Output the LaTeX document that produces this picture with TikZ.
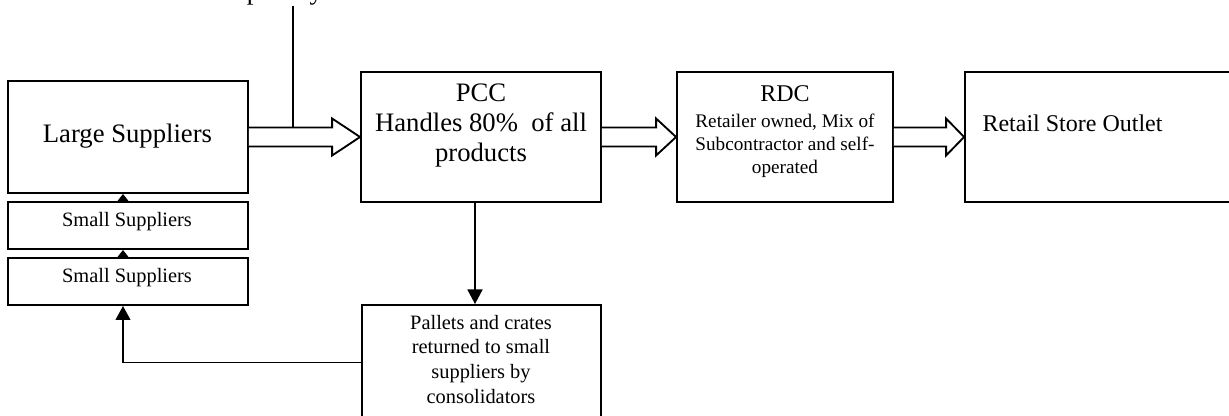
\documentclass[tikz,border=0pt]{standalone}
\usepackage{fontspec}
\setmainfont{Liberation Serif}
\usetikzlibrary{arrows.meta,calc}
\tikzset{
  box/.style={draw, line width=1.4pt, inner sep=0pt},
  txt/.style={inner sep=0pt, align=center},
  bigf/.style={font=\fontsize{20pt}{22.5pt}\selectfont},
  medf/.style={font=\fontsize{18pt}{21pt}\selectfont},
  smallf/.style={font=\fontsize{15.3pt}{18.4pt}\selectfont},
  descf/.style={font=\fontsize{14.4pt}{17.25pt}\selectfont},
  hollow/.style={draw, fill=white, line width=1.4pt},
  conn/.style={draw, line width=1.4pt},
  bigtip/.style={-{Triangle[length=11pt,width=11.25pt]}},
  smalltip/.style={-{Triangle[length=6.5pt,width=9.75pt]}},
  rettip/.style={-{Triangle[length=10.5pt,width=11pt]}}
}
\newcommand\hollowarrow[3]{%
  \draw[hollow] let \p1=(#1.east), \p2=(#2.west) in
    (\x1,\y1+7.1pt) -- (\x2-#3*0.75pt,\y1+7.1pt) -- (\x2-#3*0.75pt,\y1+13.9pt)
    -- (\x2,\y1) -- (\x2-#3*0.75pt,\y1-13.9pt) -- (\x2-#3*0.75pt,\y1-7.1pt)
    -- (\x1,\y1-7.1pt);}
\begin{document}
\begin{tikzpicture}[x=0.75pt,y=-0.75pt]
\useasboundingbox (0,0) rectangle (1229,415);
% boxes
\node[box, minimum width=180pt, minimum height=84pt] (large) at (128,137) {};
\node[box, minimum width=180pt, minimum height=35.25pt] (s1) at (128,225.5) {};
\node[box, minimum width=180pt, minimum height=35.25pt] (s2) at (128,281.5) {};
\node[box, minimum width=180pt, minimum height=97.5pt] (pcc) at (481,137) {};
\node[box, minimum width=162pt, minimum height=97.5pt] (rdc) at (785,137) {};
\node[box, minimum width=206.25pt, minimum height=97.5pt] (retail) at (1102.5,137) {};
\node[box, minimum width=179.25pt, minimum height=86.25pt] (pal) at (481.5,362.5) {};
% texts
\node[txt, bigf, anchor=base] (larget) at (127.5,142) {Large Suppliers};
\node[txt, smallf, anchor=base] (s1t) at (127,226) {Small Suppliers};
\node[txt, smallf, anchor=base] (s2t) at (127,282) {Small Suppliers};
\node[txt, bigf, anchor=north] (pcct) at (481,83.5) {PCC\\Handles 80\%~ of all\\products};
\node[txt, medf, anchor=base] (rdct) at (785,101) {RDC};
\node[txt, descf, anchor=north] (rdcd) at (785,114) {Retailer owned, Mix of\\Subcontractor and self-\\operated};
\node[txt, medf, anchor=base] (retailt) at (1072.5,131.7) {Retail Store Outlet};
\node[txt, smallf, anchor=north] (palt) at (481,315) {Pallets and crates\\returned to small\\suppliers by\\consolidators};
\node[txt, bigf, anchor=base] (topt) at (255,-0.5) {Transport by};
% block arrows
\hollowarrow{large}{pcc}{28}
\hollowarrow{pcc}{rdc}{20}
\hollowarrow{rdc}{retail}{18}
% top connector
\coordinate (tjoin) at (293,127.5);
\draw[conn] (topt.south -| tjoin) -- (tjoin);
% small supplier arrows
\draw[conn, smalltip] ($(s1.north)+(-5,0)$) -- ($(large.south)+(-5,0)$);
\draw[conn, smalltip] ($(s2.north)+(-5,0)$) -- ($(s1.south)+(-5,0)$);
% PCC to pallets
\draw[conn, bigtip] ($(pcc.south)+(-6,0)$) -- ($(pal.north)+(-6.5,0)$);
% return
\draw[conn, rettip] (pal.west) -| ($(s2.south)+(-5,0)$);
\end{tikzpicture}
\end{document}
